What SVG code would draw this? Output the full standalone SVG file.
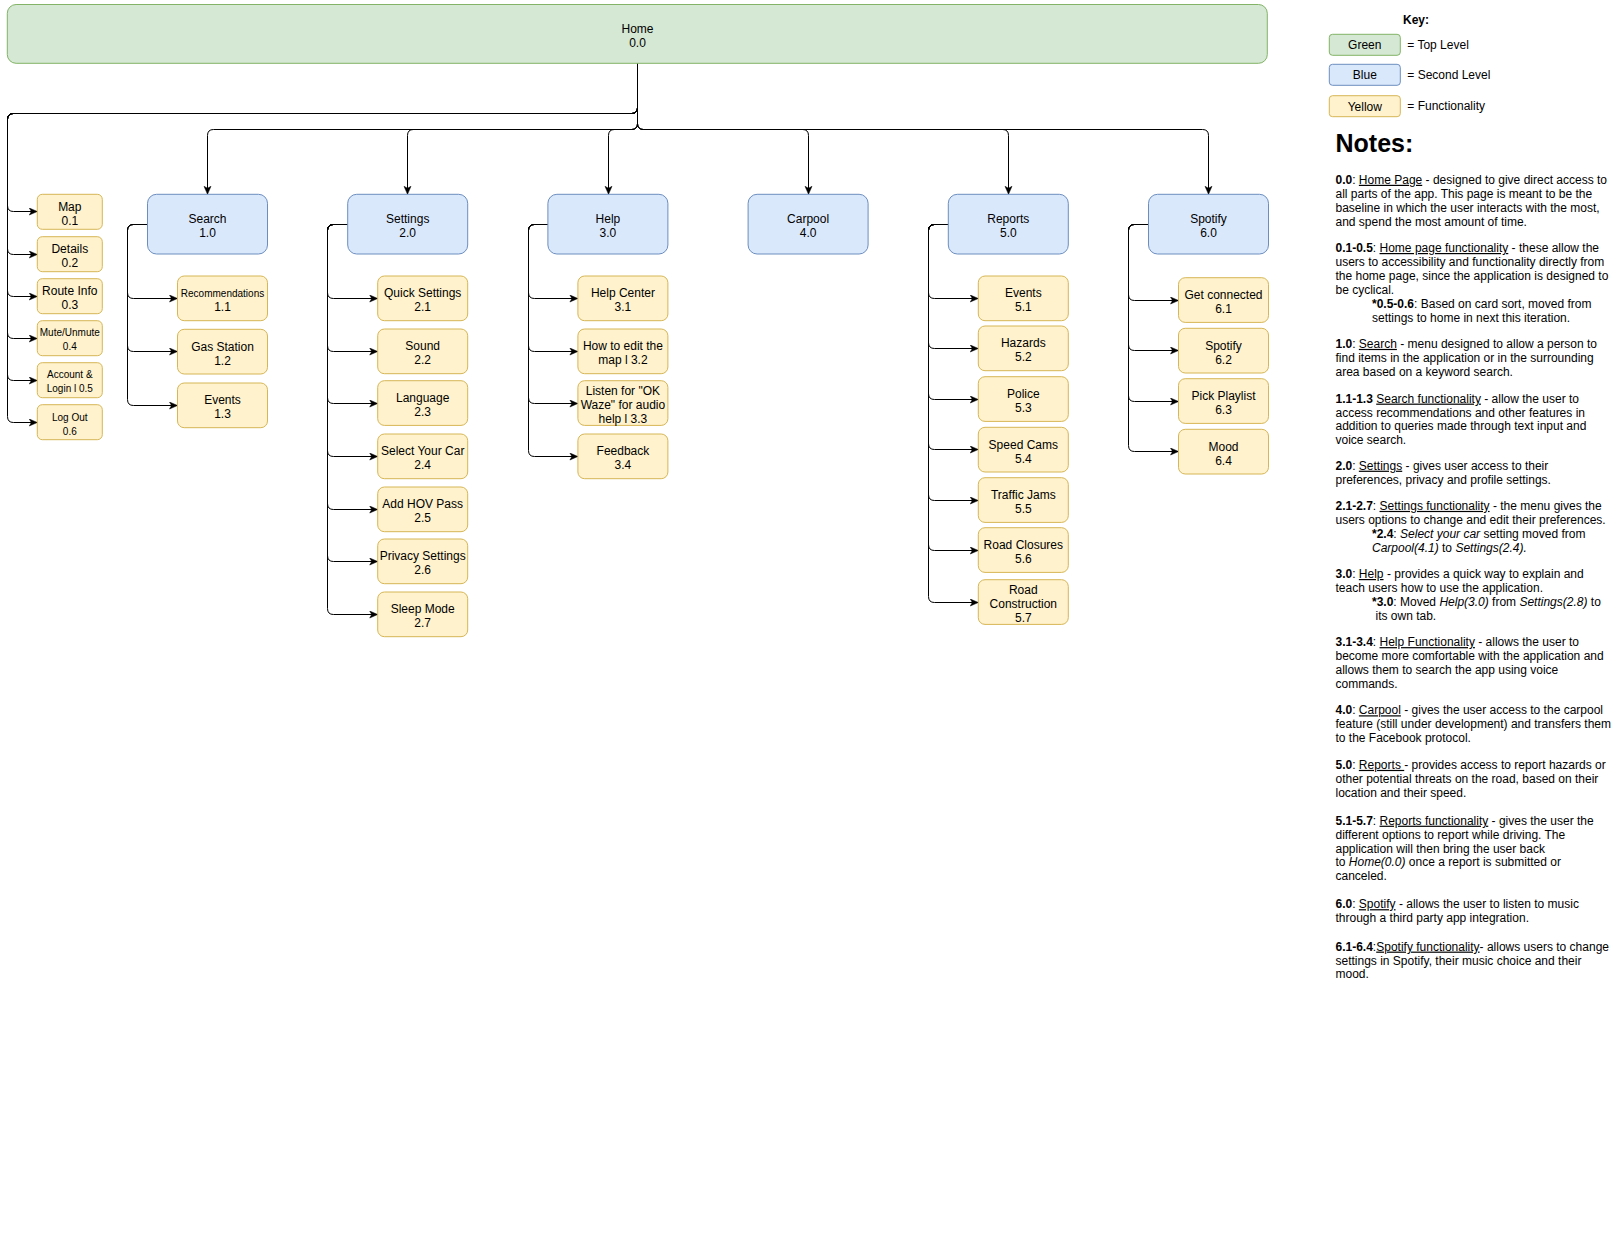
<svg xmlns="http://www.w3.org/2000/svg" width="1618" height="1245" viewBox="0 0 1618 1245">
<style>
text{font-family:"Liberation Sans",Arial,Helvetica,sans-serif;fill:#000}
.n text{font-size:12px;text-anchor:middle}
.n text.s{font-size:10px}
.green{fill:#d5e8d4;stroke:#82b366;stroke-width:1}
.blue{fill:#dae8fc;stroke:#6c8ebf;stroke-width:1}
.yel{fill:#fff2cc;stroke:#d6b656;stroke-width:1}
.e path{fill:none;stroke:#000;stroke-width:1;marker-end:url(#arr)}
.k{font-size:12px}
.nt text{font-size:12px}
.b{font-weight:bold}
.u{text-decoration:underline}
.i{font-style:italic}
</style>
<defs>
<marker id="arr" markerUnits="userSpaceOnUse" markerWidth="10" markerHeight="10" refX="9" refY="4" orient="auto">
<path d="M1,0.5 L9,4 L1,7.5 L3,4 Z" fill="#000" stroke="#000" stroke-width="0.5"/>
</marker>
</defs>
<rect width="1618" height="1245" fill="#fff"/>

<g id="connectors" class="e">
<!-- Home to left items -->
<path d="M637.5,63.3 V107.5 Q637.5,113.5 631.5,113.5 H13.5 Q7.5,113.5 7.5,119.5 V205.5 Q7.5,211.5 13.5,211.5 H37.3"/>
<path d="M637.5,63.3 V107.5 Q637.5,113.5 631.5,113.5 H13.5 Q7.5,113.5 7.5,119.5 V248.5 Q7.5,254.5 13.5,254.5 H37.3"/>
<path d="M637.5,63.3 V107.5 Q637.5,113.5 631.5,113.5 H13.5 Q7.5,113.5 7.5,119.5 V290.5 Q7.5,296.5 13.5,296.5 H37.3"/>
<path d="M637.5,63.3 V107.5 Q637.5,113.5 631.5,113.5 H13.5 Q7.5,113.5 7.5,119.5 V332.5 Q7.5,338.5 13.5,338.5 H37.3"/>
<path d="M637.5,63.3 V107.5 Q637.5,113.5 631.5,113.5 H13.5 Q7.5,113.5 7.5,119.5 V374.5 Q7.5,380.5 13.5,380.5 H37.3"/>
<path d="M637.5,63.3 V107.5 Q637.5,113.5 631.5,113.5 H13.5 Q7.5,113.5 7.5,119.5 V416.5 Q7.5,422.5 13.5,422.5 H37.3"/>
<!-- Home to columns -->
<path d="M637.5,63.3 V123.5 Q637.5,129.5 631.5,129.5 H213.5 Q207.5,129.5 207.5,135.5 V194.3"/>
<path d="M637.5,63.3 V123.5 Q637.5,129.5 631.5,129.5 H413.5 Q407.5,129.5 407.5,135.5 V194.3"/>
<path d="M637.5,63.3 V123.5 Q637.5,129.5 631.5,129.5 H614.5 Q608.5,129.5 608.5,135.5 V194.3"/>
<path d="M637.5,63.3 V123.5 Q637.5,129.5 643.5,129.5 H802.5 Q808.5,129.5 808.5,135.5 V194.3"/>
<path d="M637.5,63.3 V123.5 Q637.5,129.5 643.5,129.5 H1002.5 Q1008.5,129.5 1008.5,135.5 V194.3"/>
<path d="M637.5,63.3 V123.5 Q637.5,129.5 643.5,129.5 H1202.5 Q1208.5,129.5 1208.5,135.5 V194.3"/>
<!-- Search children -->
<path d="M147.5,224.5 H133.5 Q127.5,224.5 127.5,230.5 V292.5 Q127.5,298.5 133.5,298.5 H177.5"/>
<path d="M147.5,224.5 H133.5 Q127.5,224.5 127.5,230.5 V345.5 Q127.5,351.5 133.5,351.5 H177.5"/>
<path d="M147.5,224.5 H133.5 Q127.5,224.5 127.5,230.5 V399.5 Q127.5,405.5 133.5,405.5 H177.5"/>
<!-- Settings children -->
<path d="M347.7,224.5 H333.5 Q327.5,224.5 327.5,230.5 V292.5 Q327.5,298.5 333.5,298.5 H377.7"/>
<path d="M347.7,224.5 H333.5 Q327.5,224.5 327.5,230.5 V345.5 Q327.5,351.5 333.5,351.5 H377.7"/>
<path d="M347.7,224.5 H333.5 Q327.5,224.5 327.5,230.5 V397.5 Q327.5,403.5 333.5,403.5 H377.7"/>
<path d="M347.7,224.5 H333.5 Q327.5,224.5 327.5,230.5 V450.5 Q327.5,456.5 333.5,456.5 H377.7"/>
<path d="M347.7,224.5 H333.5 Q327.5,224.5 327.5,230.5 V503.5 Q327.5,509.5 333.5,509.5 H377.7"/>
<path d="M347.7,224.5 H333.5 Q327.5,224.5 327.5,230.5 V555.5 Q327.5,561.5 333.5,561.5 H377.7"/>
<path d="M347.7,224.5 H333.5 Q327.5,224.5 327.5,230.5 V608.5 Q327.5,614.5 333.5,614.5 H377.7"/>
<!-- Help children -->
<path d="M547.9,224.5 H534.5 Q528.5,224.5 528.5,230.5 V292.5 Q528.5,298.5 534.5,298.5 H577.9"/>
<path d="M547.9,224.5 H534.5 Q528.5,224.5 528.5,230.5 V345.5 Q528.5,351.5 534.5,351.5 H577.9"/>
<path d="M547.9,224.5 H534.5 Q528.5,224.5 528.5,230.5 V397.5 Q528.5,403.5 534.5,403.5 H577.9"/>
<path d="M547.9,224.5 H534.5 Q528.5,224.5 528.5,230.5 V450.5 Q528.5,456.5 534.5,456.5 H577.9"/>
<!-- Reports children -->
<path d="M948.3,224.5 H934.5 Q928.5,224.5 928.5,230.5 V292.5 Q928.5,298.5 934.5,298.5 H978.3"/>
<path d="M948.3,224.5 H934.5 Q928.5,224.5 928.5,230.5 V342.5 Q928.5,348.5 934.5,348.5 H978.3"/>
<path d="M948.3,224.5 H934.5 Q928.5,224.5 928.5,230.5 V393.5 Q928.5,399.5 934.5,399.5 H978.3"/>
<path d="M948.3,224.5 H934.5 Q928.5,224.5 928.5,230.5 V443.5 Q928.5,449.5 934.5,449.5 H978.3"/>
<path d="M948.3,224.5 H934.5 Q928.5,224.5 928.5,230.5 V494.5 Q928.5,500.5 934.5,500.5 H978.3"/>
<path d="M948.3,224.5 H934.5 Q928.5,224.5 928.5,230.5 V544.5 Q928.5,550.5 934.5,550.5 H978.3"/>
<path d="M948.3,224.5 H934.5 Q928.5,224.5 928.5,230.5 V596.5 Q928.5,602.5 934.5,602.5 H978.3"/>
<!-- Spotify children -->
<path d="M1148.5,224.5 H1134.5 Q1128.5,224.5 1128.5,230.5 V294.5 Q1128.5,300.5 1134.5,300.5 H1178.5"/>
<path d="M1148.5,224.5 H1134.5 Q1128.5,224.5 1128.5,230.5 V344.5 Q1128.5,350.5 1134.5,350.5 H1178.5"/>
<path d="M1148.5,224.5 H1134.5 Q1128.5,224.5 1128.5,230.5 V395.5 Q1128.5,401.5 1134.5,401.5 H1178.5"/>
<path d="M1148.5,224.5 H1134.5 Q1128.5,224.5 1128.5,230.5 V445.5 Q1128.5,451.5 1134.5,451.5 H1178.5"/>
</g>

<g id="home" class="n"><rect class="green" x="7.3" y="4.5" width="1260" height="58.8" rx="8.8"/><text x="637.5" y="32.7">Home</text><text x="637.5" y="46.7">0.0</text></g>

<!-- left items -->
<g id="map" class="n"><rect class="yel" x="37.3" y="194.3" width="65" height="35" rx="5"/><text x="69.8" y="210.5">Map</text><text x="69.8" y="224.5">0.1</text></g>
<g id="details" class="n"><rect class="yel" x="37.3" y="236.7" width="65" height="35" rx="5"/><text x="69.8" y="252.9">Details</text><text x="69.8" y="266.9">0.2</text></g>
<g id="routeinfo" class="n"><rect class="yel" x="37.3" y="278.7" width="65" height="35" rx="5"/><text x="69.8" y="294.9">Route Info</text><text x="69.8" y="308.9">0.3</text></g>
<g id="mute" class="n"><rect class="yel" x="37.3" y="320.7" width="65" height="35" rx="5"/><text class="s" x="69.8" y="335.9">Mute/Unmute</text><text class="s" x="69.8" y="349.6">0.4</text></g>
<g id="account" class="n"><rect class="yel" x="37.3" y="362.7" width="65" height="35" rx="5"/><text class="s" x="69.8" y="377.9">Account &amp;</text><text class="s" x="69.8" y="392.1">Login l 0.5</text></g>
<g id="logout" class="n"><rect class="yel" x="37.3" y="404.7" width="65" height="35" rx="5"/><text class="s" x="69.8" y="420.9">Log Out</text><text class="s" x="69.8" y="434.7">0.6</text></g>

<!-- level 2 -->
<g id="search" class="n"><rect class="blue" x="147.5" y="194.3" width="120" height="59.7" rx="9"/><text x="207.5" y="223">Search</text><text x="207.5" y="237">1.0</text></g>
<g id="settings" class="n"><rect class="blue" x="347.7" y="194.3" width="120" height="59.7" rx="9"/><text x="407.7" y="223">Settings</text><text x="407.7" y="237">2.0</text></g>
<g id="help" class="n"><rect class="blue" x="547.9" y="194.3" width="120" height="59.7" rx="9"/><text x="607.9" y="223">Help</text><text x="607.9" y="237">3.0</text></g>
<g id="carpool" class="n"><rect class="blue" x="748.1" y="194.3" width="120" height="59.7" rx="9"/><text x="808.1" y="223">Carpool</text><text x="808.1" y="237">4.0</text></g>
<g id="reports" class="n"><rect class="blue" x="948.3" y="194.3" width="120" height="59.7" rx="9"/><text x="1008.3" y="223">Reports</text><text x="1008.3" y="237">5.0</text></g>
<g id="spotify" class="n"><rect class="blue" x="1148.5" y="194.3" width="120" height="59.7" rx="9"/><text x="1208.5" y="223">Spotify</text><text x="1208.5" y="237">6.0</text></g>

<!-- search children -->
<g id="s11" class="n"><rect class="yel" x="177.5" y="276" width="90" height="44.7" rx="6.7"/><text class="s" x="222.5" y="296.9">Recommendations</text><text x="222.5" y="311">1.1</text></g>
<g id="s12" class="n"><rect class="yel" x="177.5" y="329.3" width="90" height="44.7" rx="6.7"/><text x="222.5" y="350.5">Gas Station</text><text x="222.5" y="364.5">1.2</text></g>
<g id="s13" class="n"><rect class="yel" x="177.5" y="383" width="90" height="44.7" rx="6.7"/><text x="222.5" y="404.2">Events</text><text x="222.5" y="418.2">1.3</text></g>

<!-- settings children -->
<g id="s21" class="n"><rect class="yel" x="377.7" y="276" width="90" height="44.7" rx="6.7"/><text x="422.7" y="297.2">Quick Settings</text><text x="422.7" y="311.2">2.1</text></g>
<g id="s22" class="n"><rect class="yel" x="377.7" y="329" width="90" height="44.7" rx="6.7"/><text x="422.7" y="350.2">Sound</text><text x="422.7" y="364.2">2.2</text></g>
<g id="s23" class="n"><rect class="yel" x="377.7" y="380.7" width="90" height="44.7" rx="6.7"/><text x="422.7" y="401.9">Language</text><text x="422.7" y="415.9">2.3</text></g>
<g id="s24" class="n"><rect class="yel" x="377.7" y="434" width="90" height="44.7" rx="6.7"/><text x="422.7" y="455.2">Select Your Car</text><text x="422.7" y="469.2">2.4</text></g>
<g id="s25" class="n"><rect class="yel" x="377.7" y="487" width="90" height="44.7" rx="6.7"/><text x="422.7" y="508.2">Add HOV Pass</text><text x="422.7" y="522.2">2.5</text></g>
<g id="s26" class="n"><rect class="yel" x="377.7" y="539" width="90" height="44.7" rx="6.7"/><text x="422.7" y="560.2">Privacy Settings</text><text x="422.7" y="574.2">2.6</text></g>
<g id="s27" class="n"><rect class="yel" x="377.7" y="592" width="90" height="44.7" rx="6.7"/><text x="422.7" y="613.2">Sleep Mode</text><text x="422.7" y="627.2">2.7</text></g>

<!-- help children -->
<g id="h31" class="n"><rect class="yel" x="577.9" y="276" width="90" height="44.7" rx="6.7"/><text x="622.9" y="297.2">Help Center</text><text x="622.9" y="311.2">3.1</text></g>
<g id="h32" class="n"><rect class="yel" x="577.9" y="329" width="90" height="44.7" rx="6.7"/><text x="622.9" y="350.2">How to edit the</text><text x="622.9" y="364.2">map l 3.2</text></g>
<g id="h33" class="n"><rect class="yel" x="577.9" y="380.7" width="90" height="44.7" rx="6.7"/><text x="622.9" y="394.9">Listen for "OK</text><text x="622.9" y="408.9">Waze" for audio</text><text x="622.9" y="422.9">help l 3.3</text></g>
<g id="h34" class="n"><rect class="yel" x="577.9" y="434" width="90" height="44.7" rx="6.7"/><text x="622.9" y="455.2">Feedback</text><text x="622.9" y="469.2">3.4</text></g>

<!-- reports children -->
<g id="r51" class="n"><rect class="yel" x="978.3" y="276" width="90" height="44.7" rx="6.7"/><text x="1023.3" y="297.2">Events</text><text x="1023.3" y="311.2">5.1</text></g>
<g id="r52" class="n"><rect class="yel" x="978.3" y="326" width="90" height="44.7" rx="6.7"/><text x="1023.3" y="347.2">Hazards</text><text x="1023.3" y="361.2">5.2</text></g>
<g id="r53" class="n"><rect class="yel" x="978.3" y="376.7" width="90" height="44.7" rx="6.7"/><text x="1023.3" y="397.9">Police</text><text x="1023.3" y="411.9">5.3</text></g>
<g id="r54" class="n"><rect class="yel" x="978.3" y="427.3" width="90" height="44.7" rx="6.7"/><text x="1023.3" y="448.5">Speed Cams</text><text x="1023.3" y="462.5">5.4</text></g>
<g id="r55" class="n"><rect class="yel" x="978.3" y="477.7" width="90" height="44.7" rx="6.7"/><text x="1023.3" y="498.9">Traffic Jams</text><text x="1023.3" y="512.9">5.5</text></g>
<g id="r56" class="n"><rect class="yel" x="978.3" y="527.7" width="90" height="44.7" rx="6.7"/><text x="1023.3" y="548.9">Road Closures</text><text x="1023.3" y="562.9">5.6</text></g>
<g id="r57" class="n"><rect class="yel" x="978.3" y="579.7" width="90" height="44.7" rx="6.7"/><text x="1023.3" y="593.9">Road</text><text x="1023.3" y="607.9">Construction</text><text x="1023.3" y="621.9">5.7</text></g>

<!-- spotify children -->
<g id="p61" class="n"><rect class="yel" x="1178.5" y="277.7" width="90" height="44.7" rx="6.7"/><text x="1223.5" y="298.9">Get connected</text><text x="1223.5" y="312.9">6.1</text></g>
<g id="p62" class="n"><rect class="yel" x="1178.5" y="328.3" width="90" height="44.7" rx="6.7"/><text x="1223.5" y="349.5">Spotify</text><text x="1223.5" y="363.5">6.2</text></g>
<g id="p63" class="n"><rect class="yel" x="1178.5" y="378.7" width="90" height="44.7" rx="6.7"/><text x="1223.5" y="399.9">Pick Playlist</text><text x="1223.5" y="413.9">6.3</text></g>
<g id="p64" class="n"><rect class="yel" x="1178.5" y="429.3" width="90" height="44.7" rx="6.7"/><text x="1223.5" y="450.5">Mood</text><text x="1223.5" y="464.5">6.4</text></g>

<!-- key -->
<g id="key">
<text class="k b" x="1416" y="23.6" text-anchor="middle">Key:</text>
<rect class="green" x="1329.3" y="34.3" width="71" height="21" rx="3.2"/>
<text class="k" x="1364.8" y="49.4" text-anchor="middle">Green</text>
<text class="k" x="1407.3" y="49">= Top Level</text>
<rect class="blue" x="1329.3" y="64.3" width="71" height="21" rx="3.2"/>
<text class="k" x="1364.8" y="79.4" text-anchor="middle">Blue</text>
<text class="k" x="1407.3" y="79">= Second Level</text>
<rect class="yel" x="1329.3" y="95.7" width="71" height="21" rx="3.2"/>
<text class="k" x="1364.8" y="110.8" text-anchor="middle">Yellow</text>
<text class="k" x="1407.3" y="110.4">= Functionality</text>
</g>

<!-- notes -->
<g id="notes" class="nt">
<text class="b" x="1335.5" y="151.7" style="font-size:25px">Notes:</text>

<text x="1335.5" y="183.8"><tspan class="b">0.0</tspan>: <tspan class="u">Home Page</tspan> - designed to give direct access to</text>
<text x="1335.5" y="197.7">all parts of the app. This page is meant to be the</text>
<text x="1335.5" y="211.6">baseline in which the user interacts with the most,</text>
<text x="1335.5" y="225.5">and spend the most amount of time.</text>

<text x="1335.5" y="252"><tspan class="b">0.1-0.5</tspan>: <tspan class="u">Home page functionality</tspan> - these allow the</text>
<text x="1335.5" y="265.9">users to accessibility and functionality directly from</text>
<text x="1335.5" y="279.8">the home page, since the application is designed to</text>
<text x="1335.5" y="293.7">be cyclical.</text>
<text x="1372" y="307.6"><tspan class="b">*0.5-0.6</tspan>: Based on card sort, moved from</text>
<text x="1372" y="321.5">settings to home in next this iteration.</text>

<text x="1335.5" y="347.9"><tspan class="b">1.0</tspan>: <tspan class="u">Search</tspan> - menu designed to allow a person to</text>
<text x="1335.5" y="361.8">find items in the application or in the surrounding</text>
<text x="1335.5" y="375.7">area based on a keyword search.</text>

<text x="1335.5" y="402.6"><tspan class="b">1.1-1.3</tspan> <tspan class="u">Search functionality</tspan> - allow the user to</text>
<text x="1335.5" y="416.5">access recommendations and other features in</text>
<text x="1335.5" y="430.4">addition to queries made through text input and</text>
<text x="1335.5" y="444.3">voice search.</text>

<text x="1335.5" y="469.7"><tspan class="b">2.0</tspan>: <tspan class="u">Settings</tspan> - gives user access to their</text>
<text x="1335.5" y="483.6">preferences, privacy and profile settings.</text>

<text x="1335.5" y="509.9"><tspan class="b">2.1-2.7</tspan>: <tspan class="u">Settings functionality</tspan> - the menu gives the</text>
<text x="1335.5" y="523.8">users options to change and edit their preferences.</text>
<text x="1372" y="537.7"><tspan class="b">*2.4</tspan>: <tspan class="i">Select your car</tspan> setting moved from</text>
<text x="1372" y="551.6"><tspan class="i">Carpool(4.1)</tspan> to <tspan class="i">Settings(2.4).</tspan></text>

<text x="1335.5" y="578"><tspan class="b">3.0</tspan>: <tspan class="u">Help</tspan> - provides a quick way to explain and</text>
<text x="1335.5" y="591.9">teach users how to use the application.</text>
<text x="1372" y="605.8"><tspan class="b">*3.0</tspan>: Moved <tspan class="i">Help(3.0)</tspan> from <tspan class="i">Settings(2.8)</tspan> to</text>
<text x="1375.5" y="619.7">its own tab.</text>

<text x="1335.5" y="646.1"><tspan class="b">3.1-3.4</tspan>: <tspan class="u">Help Functionality</tspan> - allows the user to</text>
<text x="1335.5" y="660">become more comfortable with the application and</text>
<text x="1335.5" y="673.9">allows them to search the app using voice</text>
<text x="1335.5" y="687.8">commands.</text>

<text x="1335.5" y="714.3"><tspan class="b">4.0</tspan>: <tspan class="u">Carpool</tspan> - gives the user access to the carpool</text>
<text x="1335.5" y="728.2">feature (still under development) and transfers them</text>
<text x="1335.5" y="742.1">to the Facebook protocol.</text>

<text x="1335.5" y="768.9"><tspan class="b">5.0</tspan>: <tspan class="u">Reports </tspan>- provides access to report hazards or</text>
<text x="1335.5" y="782.8">other potential threats on the road, based on their</text>
<text x="1335.5" y="796.7">location and their speed.</text>

<text x="1335.5" y="824.7"><tspan class="b">5.1-5.7</tspan>: <tspan class="u">Reports functionality</tspan> - gives the user the</text>
<text x="1335.5" y="838.6">different options to report while driving. The</text>
<text x="1335.5" y="852.5">application will then bring the user back</text>
<text x="1335.5" y="866.4">to <tspan class="i">Home(0.0)</tspan> once a report is submitted or</text>
<text x="1335.5" y="880.3">canceled.</text>

<text x="1335.5" y="908.2"><tspan class="b">6.0</tspan>: <tspan class="u">Spotify</tspan> - allows the user to listen to music</text>
<text x="1335.5" y="922.1">through a third party app integration.</text>

<text x="1335.5" y="950.6"><tspan class="b">6.1-6.4</tspan>:<tspan class="u">Spotify functionality</tspan>- allows users to change</text>
<text x="1335.5" y="964.5">settings in Spotify, their music choice and their</text>
<text x="1335.5" y="978.4">mood.</text>
</g>
</svg>
